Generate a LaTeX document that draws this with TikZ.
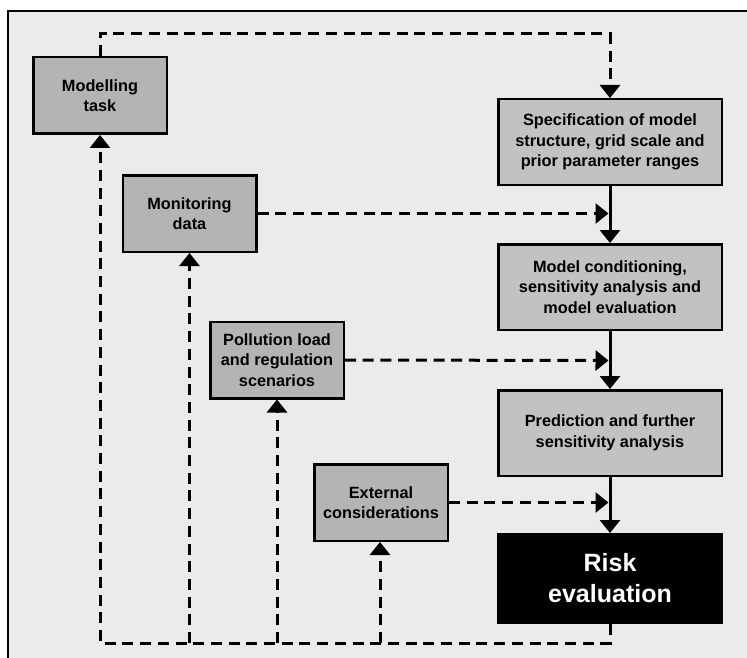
\documentclass[tikz,border=0pt]{standalone}
\usepackage{fontspec}
\setmainfont{Liberation Sans}
\usetikzlibrary{arrows.meta}
\definecolor{bgcol}{HTML}{EBEBEB}
\definecolor{leftfill}{HTML}{B4B4B4}
\definecolor{rightfill}{HTML}{C2C2C2}
\tikzset{
  box/.style={draw=black, line width=2.5pt, inner sep=0pt, align=center,
    font=\bfseries\fontsize{16.3}{20.5}\selectfont},
  leftbox/.style={box, fill=leftfill, minimum width=133.5pt, minimum height=76.5pt},
  rightbox/.style={box, fill=rightfill, minimum width=223.5pt, minimum height=85.5pt},
  riskbox/.style={draw=black, fill=black, text=white, line width=2.5pt, inner sep=0pt, align=center,
    minimum width=223.5pt, minimum height=88.5pt, font=\bfseries\fontsize{25}{31}\selectfont},
  tip/.style={-{Triangle[width=20pt,length=13pt]}},
  flow/.style={line width=3pt, tip},
  feed/.style={line width=3pt, dash pattern=on 11pt off 6.7pt},
  feedarrow/.style={feed, tip},
}
\begin{document}
\begin{tikzpicture}[x=1pt, y=-1pt]
\useasboundingbox (0,0) rectangle (747,658);
\clip (0,0) rectangle (747,658);
\path[fill=bgcol, draw=black, line width=2.5pt] (8,11) rectangle (770,680);

\node[leftbox] (mt) at (100,95.5) {Modelling\\task};
\node[leftbox] (md) at (189.5,213.5) {Monitoring\\data};
\node[leftbox] (pl) at (277,360) {Pollution load\\and regulation\\scenarios};
\node[leftbox] (ec) at (381,502.5) {External\\considerations};

\node[rightbox] (sp) at (610,142) {Specification of model\\structure, grid scale and\\prior parameter ranges};
\node[rightbox] (mc) at (610,287) {Model conditioning,\\sensitivity analysis and\\model evaluation};
\node[rightbox] (pr) at (610,433) {Prediction and further\\sensitivity analysis};
\node[riskbox] (re) at (610,578.5) {Risk\\evaluation};

% solid flow
\draw[flow] (sp.south) -- (mc.north);
\draw[flow] (mc.south) -- (pr.north);
\draw[flow] (pr.south) -- (re.north);

% top dashed loop
\coordinate (t1) at (100,34);
\coordinate (t2) at (610,34);
\draw[feedarrow] (mt.north) -- (t1) -- (t2) -- (sp.north);

% inputs into flow
\coordinate (a1) at (608.5,213.5);
\coordinate (a2) at (608.5,360.5);
\coordinate (a3) at (608.5,502.5);
\draw[feedarrow] (md.east) -- (a1);
\draw[feedarrow] (pl.east) -- (a2);
\draw[feedarrow] (ec.east) -- (a3);

% bottom feedback
\coordinate (b0) at (610,643);
\coordinate (b1) at (100,643);
\coordinate (b2) at (189.5,643);
\coordinate (b3) at (277,643);
\coordinate (b4) at (380,643);
\draw[feedarrow] (re.south) -- (b0) -- (b1) -- (mt.south);
\draw[feedarrow] (b2) -- (md.south);
\draw[feedarrow] (b3) -- (pl.south);
\draw[feedarrow] (b4) -- (b4 |- ec.south);
\end{tikzpicture}
\end{document}
